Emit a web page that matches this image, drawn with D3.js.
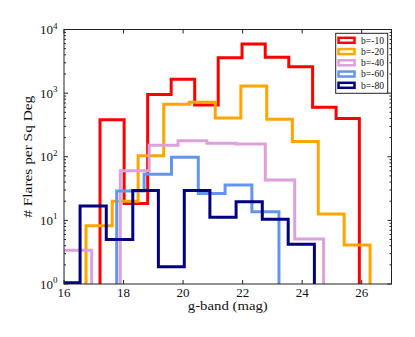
<!DOCTYPE html>
<html><head><meta charset="utf-8">
<script src="https://cdn.jsdelivr.net/npm/d3@7"></script>
<style>body{margin:0;background:#fff;}</style>
</head><body><svg id="c" width="415" height="337" font-family="'Liberation Serif', serif"></svg>
<script>
const seriesNames = ["b=-10","b=-20","b=-40","b=-60","b=-80"];
const seriesColors = ["#ff0000","#ffa500","#dda0dd","#6495ed","#000080"];
const edges10 = [17.21,18.02,18.81,19.60,20.39,21.18,21.98,22.76,23.55,24.35,25.14,25.92];
const vals10  = [380,18.5,950,1650,650,3600,5900,3650,2600,600,400];
const edges20 = [16.74,17.62,18.49,19.35,20.21,21.08,21.94,22.81,23.67,24.54,25.41,26.28];
const vals20  = [8.2,20,104,670,720,405,1300,390,173,12.6,4.1];
const edges40 = [15.96,16.93,17.89,18.86,19.83,20.80,21.77,22.76,23.75,24.72];
const vals40  = [3.4,0,60,152,178,163,159,43,5.1];
const edges60 = [17.77,18.69,19.61,20.51,21.41,22.31,23.22];
const vals60  = [29,53,98,26.5,36,13.7];
const edges80 = [15.67,16.54,17.42,18.31,19.17,20.04,20.90,21.78,22.66,23.53,24.41];
const vals80  = [1.05,16.8,5.0,29.4,1.87,29.4,11.2,19.6,10.4,4.2];
const xTicks = [16,18,20,22,24,26];
const yTicks = [1,10,100,1000,10000];
const yTickExp = ["0","1","2","3","4"];

const allEdges=[edges10,edges20,edges40,edges60,edges80];
const allVals=[vals10,vals20,vals40,vals60,vals80];

const L=64,R=391.5,T=29.5,B=284;
const svg=d3.select("#c");
const x=d3.scaleLinear().domain([16,27]).range([L,R]);
const y=d3.scaleLog().domain([1,10000]).range([B,T]);
const yv=v=>v<=0?B+20:y(v);

svg.append("defs").append("clipPath").attr("id","clip").append("rect")
  .attr("x",L).attr("y",T).attr("width",R-L).attr("height",B-T);

const g=svg.append("g").attr("clip-path","url(#clip)");
allEdges.forEach((ed,i)=>{
  const v=allVals[i];
  const p=d3.path();
  p.moveTo(x(ed[0]),B+20);
  for(let k=0;k<v.length;k++){
    p.lineTo(x(ed[k]),yv(v[k]));
    p.lineTo(x(ed[k+1]),yv(v[k]));
  }
  p.lineTo(x(ed[ed.length-1]),B+20);
  g.append("path").attr("d",p.toString()).attr("fill","none")
   .attr("stroke",seriesColors[i]).attr("stroke-width",3).attr("stroke-linejoin","miter");
});

svg.append("rect").attr("x",L).attr("y",T).attr("width",R-L).attr("height",B-T)
  .attr("fill","none").attr("stroke","#222").attr("stroke-width",1);

const ax=svg.append("g").attr("stroke","#222").attr("stroke-width",1);
xTicks.forEach(t=>{
  ax.append("line").attr("x1",x(t)).attr("x2",x(t)).attr("y1",B).attr("y2",B-4);
  ax.append("line").attr("x1",x(t)).attr("x2",x(t)).attr("y1",T).attr("y2",T+4);
});
yTicks.forEach((t,i)=>{
  ax.append("line").attr("x1",L).attr("x2",L+4).attr("y1",y(t)).attr("y2",y(t));
  ax.append("line").attr("x1",R).attr("x2",R-4).attr("y1",y(t)).attr("y2",y(t));
  if(i<yTicks.length-1){
    for(let m=2;m<10;m++){
      const yy=y(t*m);
      ax.append("line").attr("x1",L).attr("x2",L+2).attr("y1",yy).attr("y2",yy);
      ax.append("line").attr("x1",R).attr("x2",R-2).attr("y1",yy).attr("y2",yy);
    }
  }
});
svg.append("g").selectAll("text").data(xTicks).join("text")
  .attr("x",d=>x(d)).attr("y",B+13).attr("text-anchor","middle").attr("fill","#111")
  .attr("font-size",13).text(d=>d);
yTicks.forEach((t,i)=>{
  const tx=svg.append("text").attr("x",57.5).attr("y",y(t)+4.5).attr("text-anchor","end")
    .attr("font-size",13).attr("fill","#111");
  tx.append("tspan").text("10");
  tx.append("tspan").attr("dy",-5.5).attr("font-size",9).text(yTickExp[i]);
});
svg.append("text").attr("x",(L+R)/2).attr("y",310).attr("text-anchor","middle").attr("fill","#111")
  .attr("font-size",12.5).attr("textLength",80).attr("lengthAdjust","spacingAndGlyphs").text("g-band (mag)");
svg.append("text").attr("transform",`translate(32,${(T+B)/2}) rotate(-90)`).attr("fill","#111")
  .attr("text-anchor","middle").attr("font-size",12.5).attr("textLength",122)
  .attr("lengthAdjust","spacingAndGlyphs").text("# Flares per Sq Deg");

const lg=svg.append("g");
lg.append("rect").attr("x",335.7).attr("y",33.3).attr("width",52).attr("height",60)
  .attr("fill","#fff").attr("stroke","#222").attr("stroke-width",1);
seriesNames.forEach((n,i)=>{
  const cy=40.3+i*11.25;
  lg.append("rect").attr("x",338.5).attr("y",cy-2.5).attr("width",16).attr("height",5)
    .attr("fill","#fff").attr("stroke",seriesColors[i]).attr("stroke-width",2.5);
  lg.append("text").attr("x",361).attr("y",cy+3.2).attr("font-size",9.5).attr("fill","#111")
    .attr("textLength",23).attr("lengthAdjust","spacingAndGlyphs").text(n);
});
</script></body></html>
